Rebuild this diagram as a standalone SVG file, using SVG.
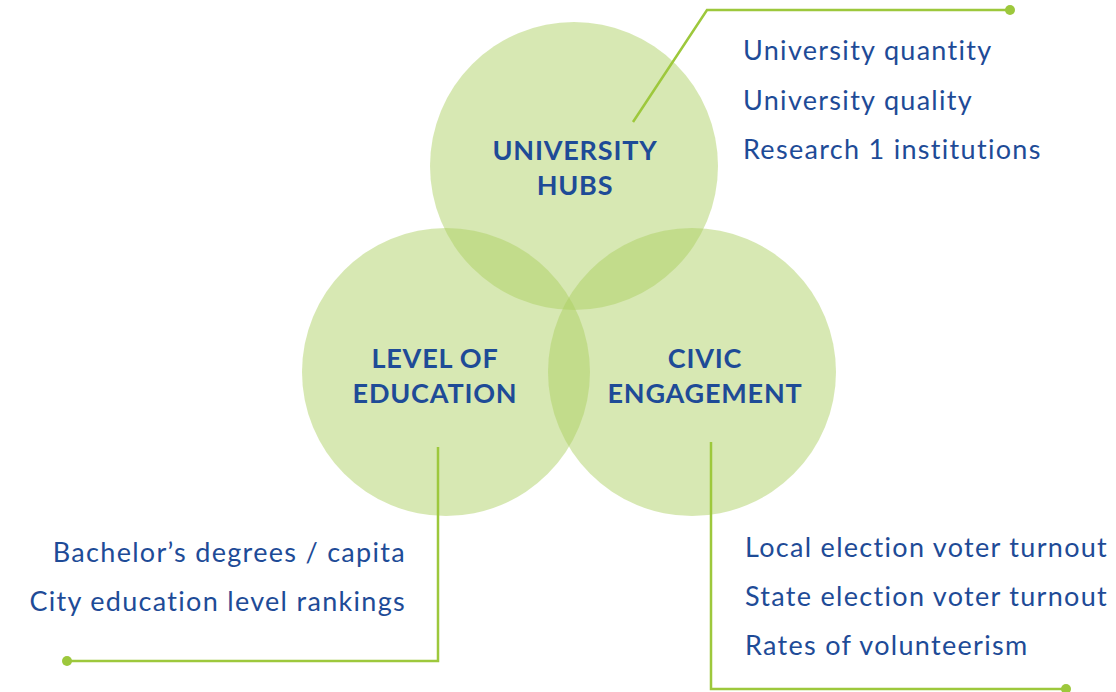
<svg xmlns="http://www.w3.org/2000/svg" width="1116" height="692" viewBox="0 0 1116 692">
<style>
.c{fill:#accf61;fill-opacity:0.48}
.t{font-family:Lato,"Open Sans",sans-serif;font-weight:700;font-size:27px;letter-spacing:0.8px;fill:#1e4b97;text-anchor:middle}
.l{font-family:Lato,"Open Sans",sans-serif;font-size:27px;letter-spacing:1.3px;fill:#1e4b97}
.k{fill:none;stroke:#9dc83c;stroke-width:2.5}
.d{fill:#9dc83c}
</style>
<rect width="1116" height="692" fill="#ffffff"/>
<g id="node-university-hubs">
<circle class="c" cx="574" cy="166" r="144"/>
<text class="t" x="575" y="160">UNIVERSITY</text>
<text class="t" x="575" y="195">HUBS</text>
</g>
<g id="node-level-of-education">
<circle class="c" cx="446" cy="372" r="144"/>
<text class="t" x="435" y="368">LEVEL OF</text>
<text class="t" x="435" y="403">EDUCATION</text>
</g>
<g id="node-civic-engagement">
<circle class="c" cx="692" cy="372" r="144"/>
<text class="t" x="705" y="368">CIVIC</text>
<text class="t" x="705" y="403">ENGAGEMENT</text>
</g>
<g id="connectors">
<polyline class="k" points="633,122 707,10 1010,10"/>
<circle class="d" cx="1010" cy="10" r="5"/>
<polyline class="k" points="438,447 438,661 67,661"/>
<circle class="d" cx="67" cy="661" r="5"/>
<polyline class="k" points="711,442 711,689 1066,689"/>
<circle class="d" cx="1066" cy="689" r="5"/>
</g>
<g id="list-university">
<text class="l" x="743" y="60">University quantity</text>
<text class="l" x="743" y="110">University quality</text>
<text class="l" x="743" y="159">Research 1 institutions</text>
</g>
<g id="list-education">
<text class="l" x="406" y="562" text-anchor="end">Bachelor’s degrees / capita</text>
<text class="l" x="406" y="611" text-anchor="end">City education level rankings</text>
</g>
<g id="list-civic">
<text class="l" x="745" y="557">Local election voter turnout</text>
<text class="l" x="745" y="606">State election voter turnout</text>
<text class="l" x="745" y="655">Rates of volunteerism</text>
</g>
</svg>
